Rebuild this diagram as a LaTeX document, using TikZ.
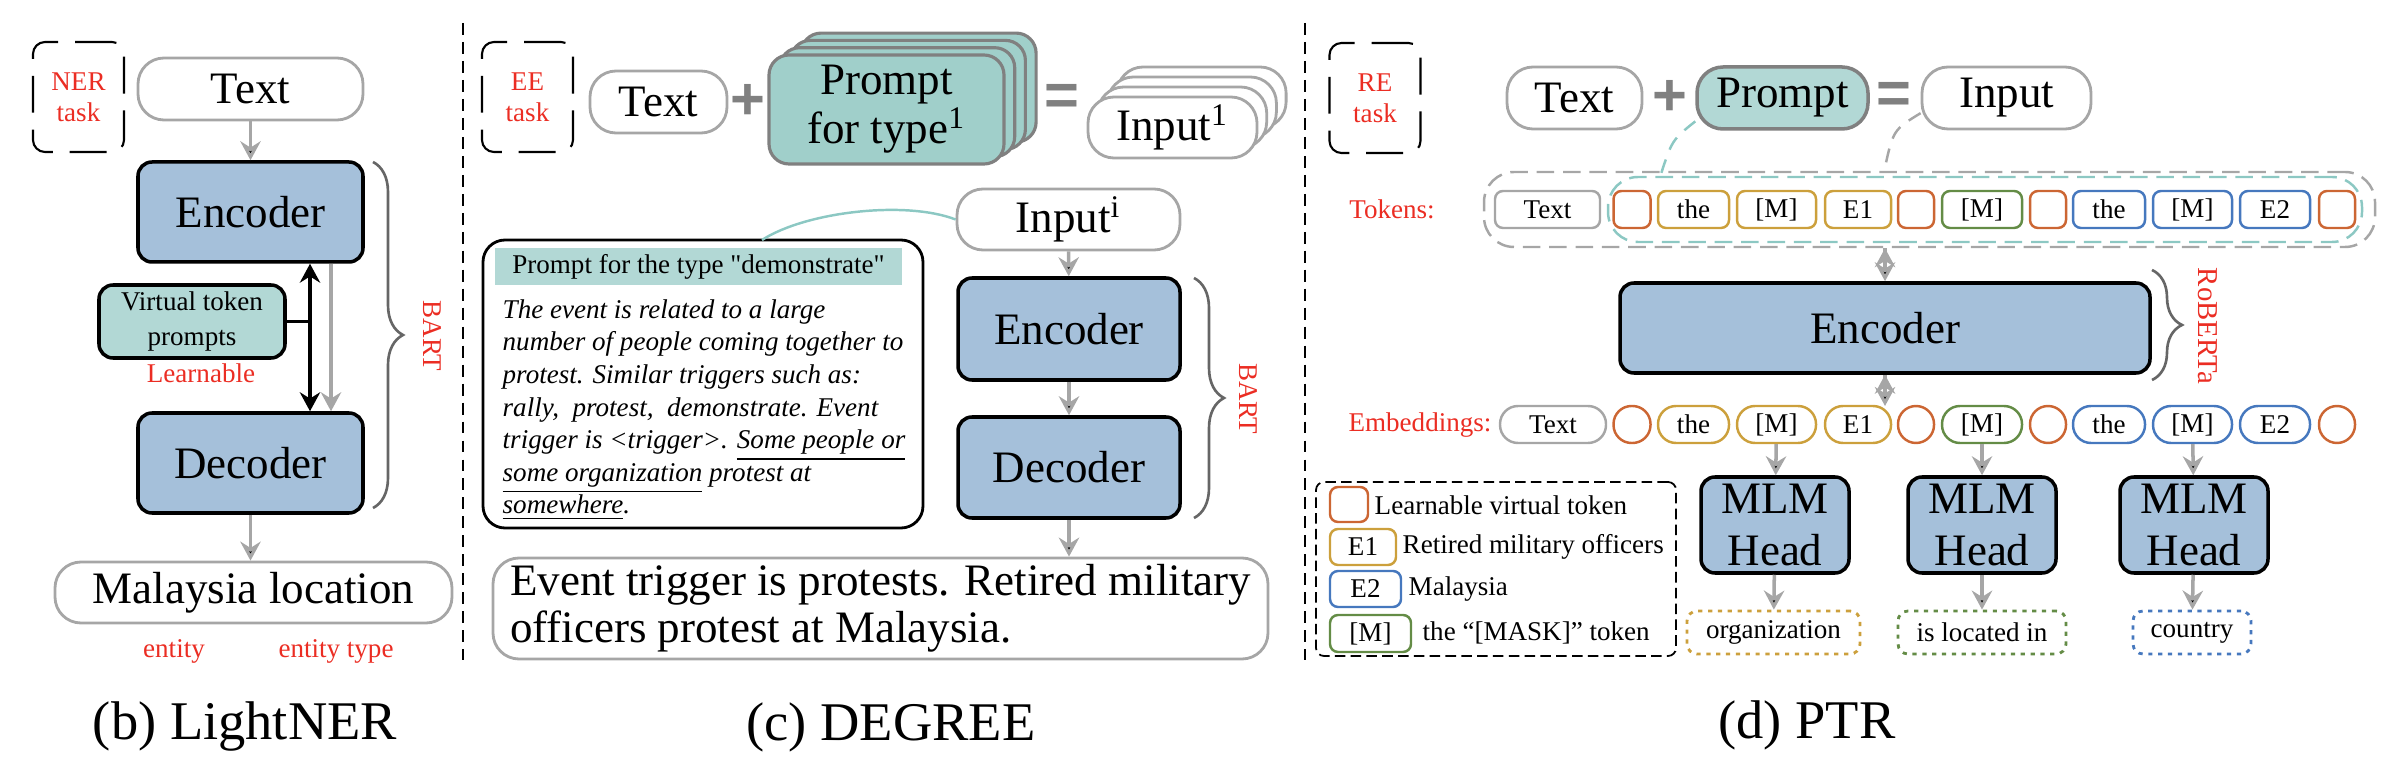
\documentclass[tikz,border=0pt]{standalone}
\usepackage{fontspec}
\setmainfont{Liberation Serif}
\setsansfont{Liberation Sans}
\usetikzlibrary{arrows.meta,decorations.pathreplacing}

\definecolor{encblue}{RGB}{165,192,218}
\definecolor{vtteal}{RGB}{178,216,213}
\definecolor{cardteal}{RGB}{160,207,202}
\definecolor{bordergray}{RGB}{166,166,166}
\definecolor{opgray}{RGB}{128,128,128}
\definecolor{bracegray}{RGB}{102,102,102}
\definecolor{taskred}{RGB}{235,45,35}
\definecolor{tkorange}{RGB}{204,102,51}
\definecolor{tkgold}{RGB}{204,160,60}
\definecolor{tkgreen}{RGB}{100,140,70}
\definecolor{tkblue}{RGB}{70,120,190}
\definecolor{linkteal}{RGB}{140,200,195}

\newcommand\bigtxt{\fontsize{12.8}{13.4}\selectfont}
\newcommand\smalltxt{\fontsize{7.7}{9.25}\selectfont}
\newcommand\captxt{\fontsize{15.5}{17}\selectfont}

\tikzset{
  pill/.style={draw=bordergray, line width=0.8pt, fill=white, rounded corners=2.6mm, inner sep=0pt, font=\bigtxt},
  blk/.style={draw=black, line width=1pt, fill=encblue, rounded corners=1.4mm, inner sep=0pt, font=\bigtxt},
  pcard/.style={draw=opgray, line width=0.9pt, fill=cardteal, rounded corners=2mm, inner sep=0pt, minimum width=23.5mm, minimum height=10.9mm, align=center, font=\fontsize{12.8}{12.5}\selectfont},
  vtbox/.style={draw=black, line width=1pt, fill=vtteal, rounded corners=1.4mm, inner sep=0pt, minimum width=18.6mm, minimum height=7.3mm, align=center, font=\fontsize{7.7}{10}\selectfont},
  taskbox/.style={draw=black, line width=0.6pt, dash pattern=on 10.5pt off 4.8pt, rounded corners=1.2mm, minimum width=9.1mm, minimum height=11mm, inner sep=0pt, align=center, text=taskred, font=\fontsize{7.7}{8.9}\selectfont},
  redlbl/.style={text=taskred, font=\smalltxt, inner sep=0pt},
  modlbl/.style={text=taskred, font=\smalltxt, rotate=-90, inner sep=0pt},
  brc/.style={draw=bracegray, line width=0.75pt, decorate, decoration={brace, amplitude=3mm}},
  flow/.style={->, draw=bordergray, line width=1pt},
  link/.style={draw=linkteal, line width=0.7pt},
  sepline/.style={draw=black, line width=0.6pt, dash pattern=on 3.4pt off 2pt},
  op/.style={text=opgray, inner sep=0pt, font=\fontsize{17}{17}\selectfont\sffamily\bfseries},
  tok/.style={draw=#1, line width=0.7pt, fill=white, rounded corners=0.8mm, minimum height=3.7mm, inner sep=0pt, font=\smalltxt},
  emb/.style={tok=#1, rounded corners=1.8mm},
  res/.style={draw=#1, line width=0.8pt, dash pattern=on 1.2pt off 1.6pt, rounded corners=1mm, minimum height=4.3mm, inner sep=0pt, font=\smalltxt},
  dashbox/.style={draw=#1, line width=0.7pt, dash pattern=on 5pt off 2.5pt, rounded corners=3mm, inner sep=0pt},
  legbox/.style={draw=black, line width=0.5pt, dash pattern=on 3pt off 1.5pt, rounded corners=0.8mm, minimum width=36mm, minimum height=17.4mm, inner sep=0pt},
  capt/.style={font=\captxt, inner sep=0pt}
}

\begin{document}
\begin{tikzpicture}[x=0.1mm, y=-0.1mm, >={Stealth[length=5.4pt,width=5.8pt,inset=1.8pt]}]
	\useasboundingbox (0,0) rectangle (2382,768);

	% (b) LightNER
	\node[taskbox] at (78.5,97) (nertask) {NER\\task};
	\node[pill, minimum width=22.5mm, minimum height=6.2mm] at (250.5,89) (ltext) {Text};
	\node[blk, minimum width=22.5mm, minimum height=10mm] at (250.5,212) (lenc) {Encoder};
	\node[vtbox] at (192,321.5) (lvtp) {Virtual token\\prompts};
	\node[redlbl] at (201,373) (llearn) {Learnable};
	\node[blk, minimum width=22.5mm, minimum height=10mm] at (250.5,463) (ldec) {Decoder};
	\node[pill, minimum width=39.7mm, minimum height=6.1mm] at (253.5,592.5) (lout) {Malaysia location};
	\node[redlbl] at (174,651) (lent) {entity};
	\node[redlbl] at (336,651) (ltype) {entity type};
	\node[capt] at (245,726) (lcap) {(b) LightNER};
	\coordinate (lj) at (310,321.5);
	\coordinate (lg) at (331,321.5);
	\path[flow] (ltext) edge (lenc);
	\path[flow] (ldec) edge (ldec |- lout.north);
	\draw[line width=1.1pt, <->] (lj |- lenc.south) -- (lj |- ldec.north);
	\draw[line width=1.1pt] (lvtp) -- (lj);
	\draw[flow] (lg |- lenc.south) -- (lg |- ldec.north);
	\draw[brc] (373,162) -- (373,508);
	\node[modlbl] at (432,336) (lbart) {BART};

	\draw[sepline] (463,23) -- (463,660);

	% (c) DEGREE
	\node[taskbox] at (527.5,97) (eetask) {EE\\task};
	\node[pill, minimum width=13.7mm, minimum height=6.2mm] at (658.5,102) (mtext) {Text};
	\node[op] at (748,102) (mplus) {+};
	\foreach \k in {3,2,1}
		\node[pcard] at ({886.5+10.7*\k},{109.5-7.3*\k}) (mpc\k) {};
	\node[pcard] at (886.5,109.5) (mprompt) {Prompt\\for type\textsuperscript{1}};
	\node[op] at (1062,100) (meq) {=};
	\foreach \k in {3,2,1}
		\node[pill, minimum width=16.9mm, minimum height=6.1mm] at ({1172.5+9.7*\k},{127.5-10*\k}) (mic\k) {};
	\node[pill, minimum width=16.9mm, minimum height=6.1mm] at (1172.5,127.5) (minput1) {Input\textsuperscript{1}};
	\node[pill, minimum width=22.3mm, minimum height=6.1mm] at (1068.5,219.5) (minput) {Input\textsuperscript{i}};
	\node[blk, minimum width=22.2mm, minimum height=10.2mm] at (1069,329) (menc) {Encoder};
	\node[blk, minimum width=22.2mm, minimum height=10.1mm] at (1069,467.5) (mdec) {Decoder};
	\node[pill, minimum width=77.5mm, minimum height=10.1mm, align=left] at (880.5,608.5) (mout) {Event trigger is protests. Retired military\\officers protest at Malaysia.};
	\node[draw, line width=0.8pt, rounded corners=2.2mm, minimum width=44mm, minimum height=28.8mm] at (703,384) (mpbox) {};
	\node[fill=vtteal, minimum width=40.7mm, minimum height=3.7mm, inner sep=0pt, font=\smalltxt] at (698.5,266.5) (mphead) {Prompt for the type \textquotedbl demonstrate\textquotedbl};
	\node[anchor=north west, align=left, inner sep=0pt, font=\smalltxt\itshape] at (502,299) (mpbody) {The event is related to a large\\
		number of people coming together to\\
		protest. Similar triggers such as:\\
		rally,\ \ protest,\ \ demonstrate. Event\\
		trigger is \textless trigger\textgreater. \underline{Some people or}\\
		\underline{some organization} protest at\\
		\underline{somewhere}.};
	\coordinate (mpin) at (762,240);
	\draw[link] (minput.west) .. controls (905,200) and (805,212) .. (mpin);
	\path[flow] (minput) edge (menc);
	\path[flow] (menc) edge (mdec);
	\path[flow] (mdec) edge (mdec |- mout.north);
	\draw[brc] (1194,278) -- (1194,518);
	\node[modlbl] at (1248,399) (mbart) {BART};
	\node[capt] at (891,727) (mcap) {(c) DEGREE};

	\draw[sepline] (1305,23) -- (1305,660);

	% (d) PTR
	\node[taskbox] at (1375,98) (retask) {RE\\task};
	\node[pill, minimum width=13.5mm, minimum height=6.2mm] at (1574.5,98) (rtext) {Text};
	\node[op] at (1670,98) (rplus) {+};
	\node[pill, fill=vtteal, draw=opgray, line width=1pt, minimum width=17.1mm, minimum height=6.2mm] at (1782.5,98) (rprompt) {Prompt};
	\node[op] at (1894,98) (req) {=};
	\node[pill, minimum width=16.9mm, minimum height=6.2mm] at (2006.5,98) (rinput) {Input};

	\node[redlbl] at (1392,209) (rtoklbl) {Tokens:};
	\node[dashbox=bordergray, minimum width=89.1mm, minimum height=7.5mm] at (1929.5,209.5) (rtokall) {};
	\node[dashbox=linkteal, minimum width=75.4mm, minimum height=6.5mm] at (1985,209.5) (rtokprm) {};
	\node[tok=bordergray, minimum width=10.5mm] at (1547.5,209.5) (rtk0) {Text};
	\foreach \x/\w/\c/\t [count=\i] in {1632/3.7/tkorange/{}, 1693.5/7.1/tkgold/the, 1776.5/7.9/tkgold/{[M]}, 1858/6.6/tkgold/E1, 1916/3.6/tkorange/{}, 1982/8.0/tkgreen/{[M]}, 2048/3.6/tkorange/{}, 2109/7.2/tkblue/the, 2192.5/7.9/tkblue/{[M]}, 2275/7.0/tkblue/E2, 2337/3.6/tkorange/{}}
		\node[tok=\c, minimum width=\w mm] at (\x,209.5) (rtk\i) {\t};
	\coordinate (tkin) at (1660,177);
	\coordinate (tkout) at (1884,172);
	\draw[link, dash pattern=on 4pt off 3pt] (rprompt.195) .. controls (1672,140) .. (tkin);
	\draw[draw=bordergray, line width=0.7pt, dash pattern=on 4pt off 3pt] (rinput.190) .. controls (1893,130) .. (tkout);

	\node[blk, minimum width=53mm, minimum height=9mm] at (1885,328) (renc) {Encoder};
	\path[flow] (rtokall.south -| renc) edge (renc);
	\draw[brc] (2152,270) -- (2152,380);
	\node[modlbl, font=\fontsize{8.2}{9}\selectfont] at (2208,326) (rrob) {RoBERTa};

	\node[redlbl] at (1420,425) (remlbl) {Embeddings:};
	\node[emb=bordergray, minimum width=10.6mm] at (1553,424.5) (rem0) {Text};
	\foreach \x/\w/\c/\t [count=\i] in {1632/3.7/tkorange/{}, 1693.5/7.1/tkgold/the, 1776.5/7.9/tkgold/{[M]}, 1858/6.6/tkgold/E1, 1916/3.6/tkorange/{}, 1982/8.0/tkgreen/{[M]}, 2048/3.6/tkorange/{}, 2109/7.2/tkblue/the, 2192.5/7.9/tkblue/{[M]}, 2275/7.0/tkblue/E2, 2337/3.6/tkorange/{}}
		\node[emb=\c, minimum width=\w mm] at (\x,424.5) (rem\i) {\t};
	\coordinate (embtop) at (1885,406);
	\path[flow] (renc.south) edge (renc.south |- embtop);

	\node[blk, minimum width=14.8mm, minimum height=9.6mm, align=center, font=\fontsize{12.8}{15}\selectfont] at (1775,525) (rh1) {MLM\\Head};
	\node[blk, minimum width=14.8mm, minimum height=9.6mm, align=center, font=\fontsize{12.8}{15}\selectfont] at (1982,525) (rh2) {MLM\\Head};
	\node[blk, minimum width=14.8mm, minimum height=9.6mm, align=center, font=\fontsize{12.8}{15}\selectfont] at (2194,525) (rh3) {MLM\\Head};
	\path[flow] (rem3) edge (rh1);
	\path[flow] (rem6) edge (rh2);
	\path[flow] (rem9) edge (rh3);
	\node[res=tkgold, minimum width=17.3mm] at (1773.5,632.5) (rr1) {organization};
	\node[res=tkgreen, minimum width=16.8mm] at (1982,632.5) (rr2) {is located in};
	\node[res=tkblue, minimum width=11.8mm] at (2192,632.5) (rr3) {country};
	\path[flow] (rh1) edge (rr1);
	\path[flow] (rh2) edge (rr2);
	\path[flow] (rh3) edge (rr3);

	% legend
	\node[legbox] at (1496,569) (rleg) {};
	\node[tok=tkorange, minimum width=3.8mm, minimum height=3.5mm] at (1349,504.5) (lk1) {};
	\node[tok=tkgold, minimum width=6.6mm, minimum height=3.6mm] at (1363,547) (lk2) {E1};
	\node[tok=tkblue, minimum width=7.1mm, minimum height=3.6mm] at (1365.5,589) (lk3) {E2};
	\node[tok=tkgreen, minimum width=8.1mm, minimum height=3.7mm] at (1370.5,633.5) (lk4) {[M]};
	\node[anchor=west, inner sep=0pt, font=\smalltxt] at (1374,505) (lt1) {Learnable virtual token};
	\node[anchor=west, inner sep=0pt, font=\smalltxt] at (1402,547) (lt2) {Retired military officers};
	\node[anchor=west, inner sep=0pt, font=\smalltxt] at (1408,589) (lt3) {Malaysia};
	\node[anchor=west, inner sep=0pt, font=\smalltxt] at (1422,633) (lt4) {the “[MASK]” token};

	\node[capt] at (1807,725) (rcap) {(d) PTR};
\end{tikzpicture}
\end{document}
